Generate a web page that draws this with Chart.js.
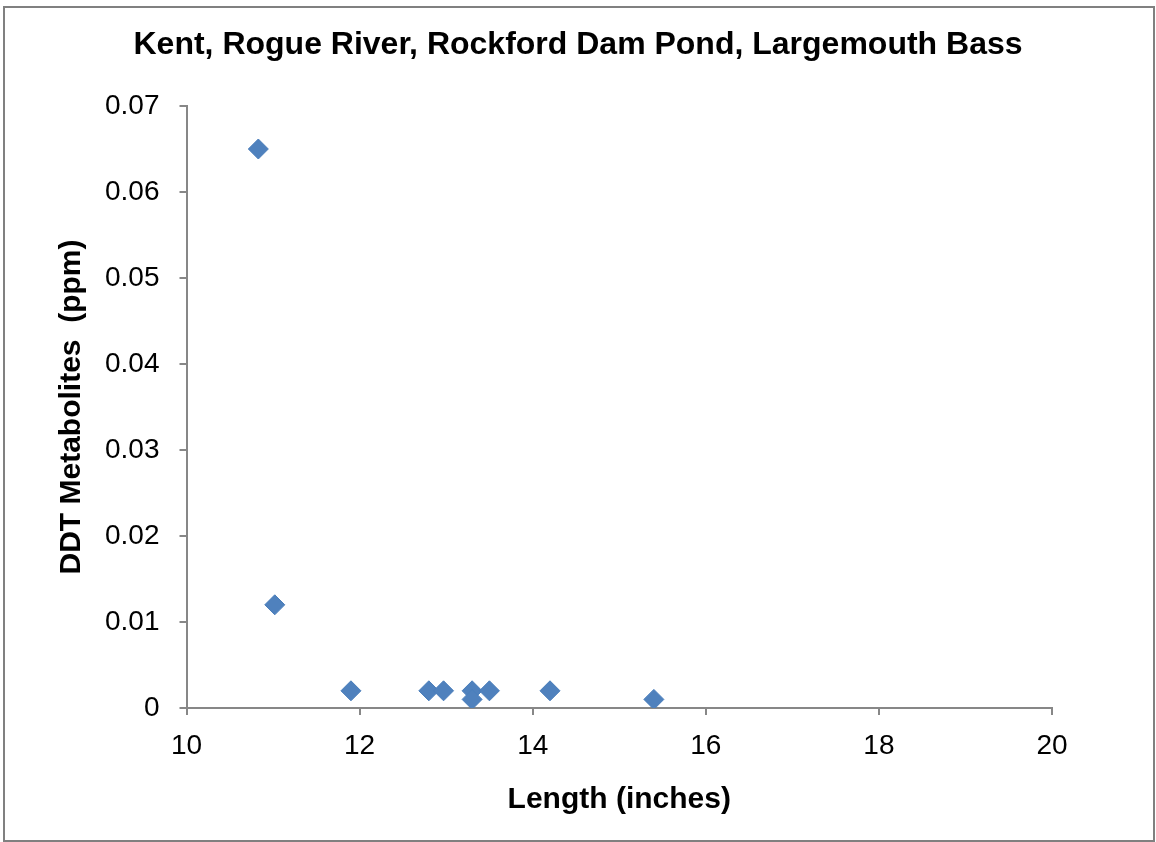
<!DOCTYPE html>
<html>
<head>
<meta charset="utf-8">
<script src="https://cdn.jsdelivr.net/npm/chart.js@4"></script>
<style>
  html, body { margin: 0; padding: 0; background: #fff; }
  #wrap { position: relative; width: 1156px; height: 842px; }
</style>
</head>
<body>
<div id="wrap"><canvas id="c" width="1156" height="842"></canvas></div>
<script>
const lengthInches = [10.83, 11.02, 11.9, 12.8, 12.97, 13.3, 13.3, 13.5, 14.2, 15.4];
const ddtPpm       = [0.065, 0.012, 0.002, 0.002, 0.002, 0.002, 0.001, 0.002, 0.002, 0.001];
const xTicks = [10, 12, 14, 16, 18, 20];
const yTicks = [0, 0.01, 0.02, 0.03, 0.04, 0.05, 0.06, 0.07];
const chartTitle = 'Kent, Rogue River, Rockford Dam Pond, Largemouth Bass';
const xTitle = 'Length (inches)';
const yTitle = 'DDT Metabolites  (ppm)';

const FONT = "'Liberation Sans', Arial, sans-serif";
const AXIS = '#878787';

const points = lengthInches.map((x, i) => ({ x: x, y: ddtPpm[i] }));

const frame = {
  id: 'frame',
  beforeDraw(chart) {
    const ctx = chart.ctx;
    ctx.save();
    ctx.fillStyle = '#ffffff';
    ctx.fillRect(0, 0, chart.width, chart.height);
    ctx.strokeStyle = '#808080';
    ctx.lineWidth = 2;
    ctx.strokeRect(4, 7, 1150, 834);
    ctx.restore();
  },
  afterDraw(chart) {
    const ctx = chart.ctx;
    ctx.save();
    ctx.fillStyle = '#000';
    ctx.font = 'bold 32px ' + FONT;
    ctx.textAlign = 'center';
    ctx.textBaseline = 'middle';
    ctx.fillText(chartTitle, chart.width / 2, 45);
    ctx.restore();
  }
};

new Chart(document.getElementById('c'), {
  type: 'scatter',
  data: {
    datasets: [{
      data: points,
      pointStyle: 'rectRot',
      pointRadius: 10,
      pointHoverRadius: 10,
      backgroundColor: '#4F81BD',
      borderColor: '#4A7EBB',
      borderWidth: 1
    }]
  },
  plugins: [frame],
  options: {
    responsive: false,
    animation: false,
    events: [],
    layout: { padding: { left: 0, right: 104, top: 106, bottom: 0 } },
    plugins: {
      legend: { display: false },
      tooltip: { enabled: false },
      title: { display: false }
    },
    scales: {
      x: {
        type: 'linear',
        min: 10, max: 20,
        afterBuildTicks(scale) { scale.ticks = xTicks.map(v => ({ value: v })); },
        afterFit(scale) { scale.height = 134; },
        ticks: {
          color: '#000',
          font: { family: FONT, size: 28 },
          padding: 14,
          callback: v => String(v)
        },
        grid: { drawOnChartArea: false, drawTicks: true, tickLength: 7, tickColor: AXIS, lineWidth: 2 },
        border: { display: true, color: AXIS, width: 2 },
        title: {
          display: true,
          text: xTitle,
          color: '#000',
          font: { family: FONT, size: 30, weight: 'bold', lineHeight: 1.2 },
          padding: { top: 0, bottom: 24 }
        }
      },
      y: {
        type: 'linear',
        min: 0, max: 0.07,
        afterBuildTicks(scale) { scale.ticks = yTicks.map(v => ({ value: v })); },
        afterFit(scale) { scale.width = 186.5; },
        ticks: {
          color: '#000',
          font: { family: FONT, size: 28 },
          padding: 20,
          callback: v => (v === 0 ? '0' : v.toFixed(2))
        },
        grid: { drawOnChartArea: false, drawTicks: true, tickLength: 7, tickColor: AXIS, lineWidth: 2 },
        border: { display: true, color: AXIS, width: 2 },
        title: {
          display: true,
          text: yTitle,
          color: '#000',
          font: { family: FONT, size: 30, weight: 'bold', lineHeight: 1.2 },
          padding: { top: 54, bottom: 0 }
        }
      }
    }
  }
});
</script>
</body>
</html>
